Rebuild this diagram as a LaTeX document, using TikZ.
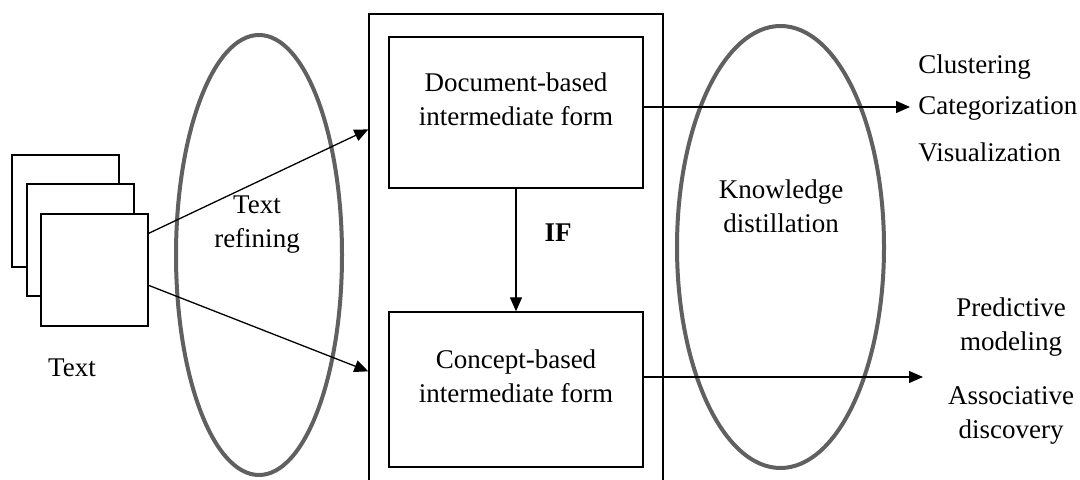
\documentclass[tikz,border=0pt]{standalone}
\usepackage{fontspec}
\setmainfont{Liberation Serif}
\usetikzlibrary{shapes.geometric,arrows.meta}
\definecolor{ovalgray}{RGB}{96,96,96}

\begin{document}
\begin{tikzpicture}[x=0.5pt,y=-0.5pt,
  every node/.style={font=\fontsize{13.5}{17}\selectfont, align=center, inner sep=0pt},
  page/.style={draw, fill=white, line width=0.65pt, minimum width=53.5pt, minimum height=56pt},
  formbox/.style={draw, line width=0.65pt, minimum width=127pt},
  oval/.style={ellipse, draw=ovalgray, line width=2pt},
  flow/.style={line width=0.65pt, -{Triangle[length=7pt,width=6pt]}}]
  \useasboundingbox (0,0) rectangle (1080,480);
  \node[page] (doc1) at (65.5,211) {};
  \node[page] (doc2) at (80.5,240) {};
  \node[page] (doc3) at (94.5,270) {};
  \node (txt) at (72,368) {Text};
  \node[oval, minimum width=83pt, minimum height=220pt] (refine) at (259,255) {};
  \node (refinelbl) at (257,225) {Text\\refining};
  \node[draw, line width=0.65pt, minimum width=147pt, minimum height=238pt] (outer) at (516,252) {};
  \node[formbox, minimum height=75.5pt] (docif) at (516,112.5) {};
  \node[formbox, minimum height=77.5pt] (conif) at (516,389.5) {};
  \node (docifl) at (516,99) {Document-based\\intermediate form};
  \node (conifl) at (516,376) {Concept-based\\intermediate form};
  \node[font=\bfseries\fontsize{13.5}{17}\selectfont] (iflbl) at (558,233) {IF};
  \node[oval, minimum width=103.5pt, minimum height=221pt] (distill) at (780.5,247) {};
  \node (distilllbl) at (781,206) {Knowledge\\distillation};
  \node[anchor=west] (clu) at (918,67) {Clustering};
  \node[anchor=west] (cat) at (918,108) {Categorization};
  \node[anchor=west] (vis) at (918,152) {Visualization};
  \node (pred) at (1011,327) {Predictive\\modeling};
  \node (assoc) at (1011,415) {Associative\\discovery};
  \coordinate (out1) at (910,107);
  \coordinate (out2) at (923,377);
  \draw[flow] ([yshift=-10pt]doc3.north east) -- ([yshift=-58pt]outer.north west);
  \draw[flow] ([yshift=-36pt]doc3.north east) -- ([yshift=-179pt]outer.north west);
  \draw[flow] (docif.south) -- (conif.north);
  \draw[flow] ([yshift=2.75pt]docif.east) -- (out1);
  \draw[flow] ([yshift=6.25pt]conif.east) -- (out2);
\end{tikzpicture}
\end{document}
